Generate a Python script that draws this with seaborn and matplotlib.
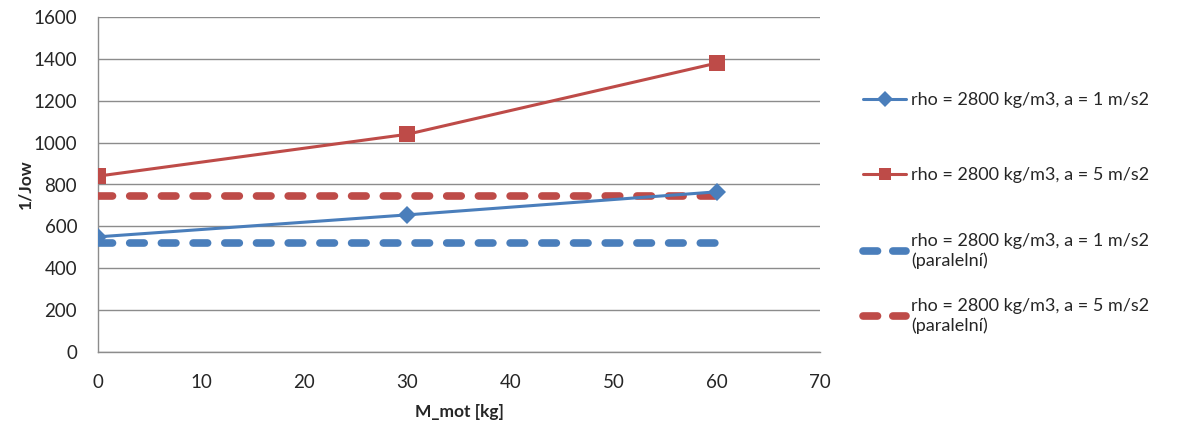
import matplotlib
matplotlib.use("Agg")
import matplotlib.pyplot as plt
import seaborn as sns
import pandas as pd
from matplotlib.lines import Line2D

# Data
m_mot = [0, 30, 60]
blue_a1 = [550, 655, 765]
red_a5 = [840, 1040, 1380]
blue_par = [520, 520, 520]
red_par = [745, 745, 745]

labels = [
    "rho = 2800 kg/m3, a = 1 m/s2",
    "rho = 2800 kg/m3, a = 5 m/s2",
    "rho = 2800 kg/m3, a = 1 m/s2\n(paralelní)",
    "rho = 2800 kg/m3, a = 5 m/s2\n(paralelní)",
]
xticks = [0, 10, 20, 30, 40, 50, 60, 70]
yticks = [0, 200, 400, 600, 800, 1000, 1200, 1400, 1600]

BLUE = "#4A7EBB"
RED = "#BE4B48"
GRID = "#8C8C8C"
TXT = "#262626"

sns.set_style("white")
plt.rcParams['font.family'] = ['Lato', 'DejaVu Sans']

fig = plt.figure(figsize=(11.86, 4.23), dpi=100)
ax = fig.add_axes([98/1186, 1-352/423, (820-98)/1186, (352-17)/423])

df1 = pd.DataFrame({"x": m_mot, "y": blue_a1})
df2 = pd.DataFrame({"x": m_mot, "y": red_a5})
df3 = pd.DataFrame({"x": m_mot, "y": blue_par})
df4 = pd.DataFrame({"x": m_mot, "y": red_par})

DLW = 5.5
dash = (0, (1.9, 2.25))
sns.lineplot(data=df3, x="x", y="y", ax=ax, color=BLUE, lw=DLW,
             linestyle=dash, dash_capstyle="round", zorder=3)
sns.lineplot(data=df4, x="x", y="y", ax=ax, color=RED, lw=DLW,
             linestyle=dash, dash_capstyle="round", zorder=3)
sns.lineplot(data=df1, x="x", y="y", ax=ax, color=BLUE, lw=2.2,
             marker="D", markersize=9, markeredgewidth=0, zorder=4)
sns.lineplot(data=df2, x="x", y="y", ax=ax, color=RED, lw=2.2,
             marker="s", markersize=11, markeredgewidth=0, zorder=4)

ax.set_xlim(0, 70)
ax.set_ylim(0, 1600)
ax.set_xticks(xticks)
ax.set_yticks(yticks)
ax.margins(0)
ax.grid(axis="y", color=GRID, lw=1)
ax.grid(axis="x", visible=False)
for s in ["top", "right"]:
    ax.spines[s].set_visible(False)
for s in ["left", "bottom"]:
    ax.spines[s].set_color(GRID)
    ax.spines[s].set_linewidth(1)
ax.tick_params(axis="both", which="major", length=5, width=1, color=GRID,
               labelsize=13.5, labelcolor=TXT, direction="out")
ax.tick_params(axis="x", pad=11)
ax.tick_params(axis="y", pad=10)
ax.set_xlabel("M_mot [kg]", fontsize=12.5, fontweight="bold", color=TXT, labelpad=9)
ax.set_ylabel("1/Jow", fontsize=12.5, fontweight="bold", color=TXT, labelpad=0)

# Legend entries
ldash = (0, (1.9, 2.0))
handles = [
    Line2D([], [], color=BLUE, lw=2.2, marker="D", markersize=8, markeredgewidth=0),
    Line2D([], [], color=RED, lw=2.2, marker="s", markersize=9, markeredgewidth=0),
    Line2D([], [], color=BLUE, lw=DLW, linestyle=ldash, dash_capstyle="round"),
    Line2D([], [], color=RED, lw=DLW, linestyle=ldash, dash_capstyle="round"),
]
ypos = [100, 175, 251, 316]
for h, lab, yp in zip(handles, labels, ypos):
    fig.legend([h], [lab], loc="center left", bbox_to_anchor=(863/1186, 1-yp/423),
               frameon=False, fontsize=13, handlelength=2.4, handletextpad=0.25,
               borderaxespad=0, borderpad=0, labelcolor=TXT)

fig.savefig("out.png", dpi=100)
